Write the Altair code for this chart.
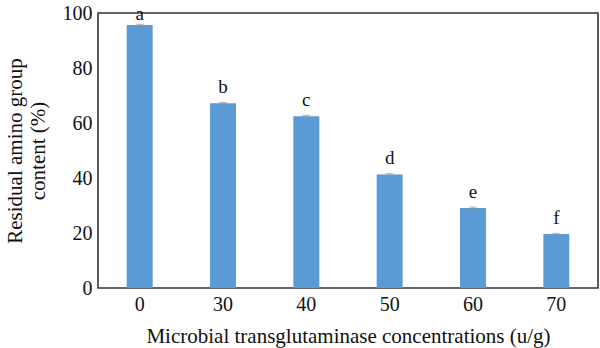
import altair as alt
import pandas as pd

concentrations = ["0", "30", "40", "50", "60", "70"]
residual = [95.6, 67.2, 62.5, 41.3, 29.1, 19.6]
errors = [0.3, 0.3, 0.3, 0.3, 0.3, 0.3]
letters = ["a", "b", "c", "d", "e", "f"]

df = pd.DataFrame({
    "conc": concentrations,
    "value": residual,
    "err": errors,
    "letter": letters,
    "idx": list(range(len(concentrations))),
})

FONT = "Liberation Serif"

x = alt.X("conc:N", sort=concentrations,
          title="Microbial transglutaminase concentrations (u/g)",
          scale=alt.Scale(paddingInner=0.69, paddingOuter=0.345),
          axis=alt.Axis(labelAngle=0, ticks=False, domain=False, labelPadding=6,
                        titlePadding=11))
y = alt.Y("value:Q", title=["Residual amino group", "content (%)"],
          scale=alt.Scale(domain=[0, 100], nice=False),
          axis=alt.Axis(values=[0, 20, 40, 60, 80, 100], ticks=False, domain=False,
                        grid=False, labelPadding=6, titlePadding=14))

base = alt.Chart(df)

bars = base.mark_bar(color="#5B9BD5", size=26).encode(x=x, y=y)

err = base.mark_errorbar(ticks={"size": 8, "color": "#999999"}, color="#999999",
                         thickness=1).encode(
    x=x,
    y=y,
    yError="err:Q",
)

text_first = base.transform_filter("datum.idx == 0").mark_text(
    baseline="bottom", dy=-1, font=FONT, fontSize=19, color="#111111"
).encode(x=x, y=y, text="letter:N")

text_rest = base.transform_filter("datum.idx > 0").mark_text(
    baseline="bottom", dy=-6, font=FONT, fontSize=19, color="#111111"
).encode(x=x, y=y, text="letter:N")

chart = alt.layer(bars, err, text_first, text_rest).properties(
    width=500, height=275,
    background="white",
    autosize=alt.AutoSizeParams(type="none"),
    padding={"left": 98, "top": 13, "right": 2, "bottom": 60},
).configure_view(
    stroke="#333333", strokeWidth=1.6, strokeOpacity=1
).configure_axis(
    labelFont=FONT, titleFont=FONT, labelFontSize=20, titleFontSize=21,
    labelColor="#111111", titleColor="#111111", titleFontWeight="normal",
    titleLineHeight=23,
)

chart.save("out.html", embed_options={"renderer": "svg", "actions": False})
